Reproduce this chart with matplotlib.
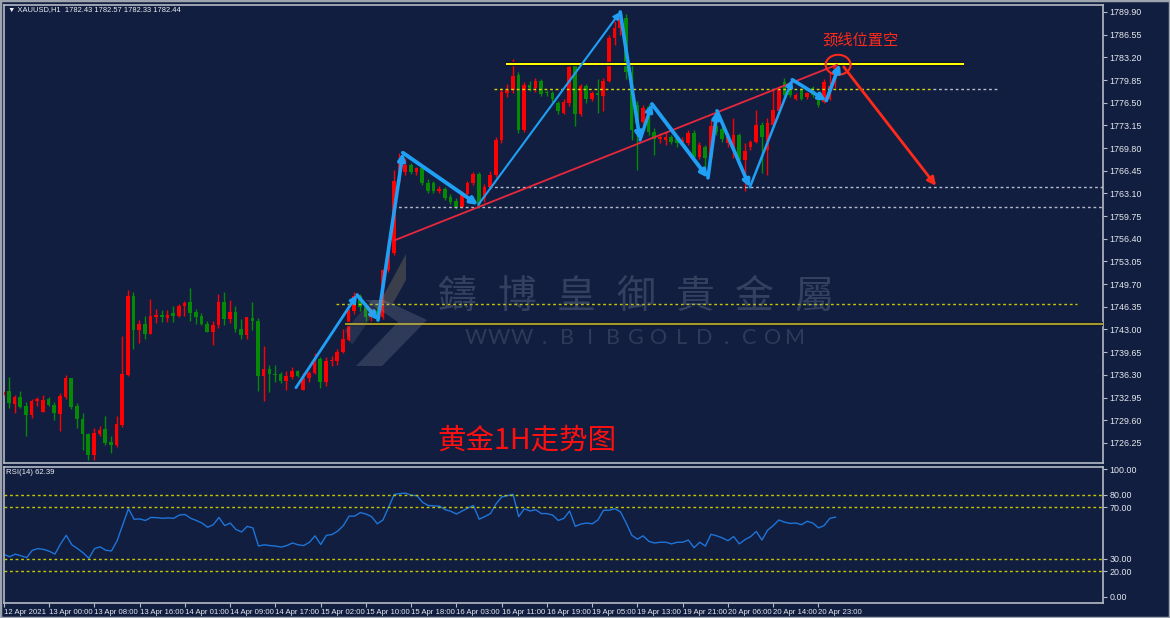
import numpy as np
import matplotlib.pyplot as plt
from matplotlib.patches import Ellipse, Rectangle, Polygon

# XAUUSD H1 candles, bar index 0..147
opens = [1733.3, 1733.9, 1732.0, 1733.0, 1731.7, 1730.3, 1732.4, 1730.8, 1732.7, 1731.9,
         1730.5, 1733.1, 1735.8, 1731.7, 1729.8, 1727.6, 1724.4, 1727.6, 1728.3, 1726.4,
         1725.9, 1728.9, 1736.3, 1748.0, 1742.9, 1743.8, 1742.4, 1744.8, 1745.2, 1744.7,
         1745.4, 1745.0, 1746.5, 1747.0, 1745.6, 1745.0, 1743.8, 1742.7, 1743.6, 1747.1,
         1744.6, 1745.6, 1743.1, 1742.2, 1744.7, 1744.3, 1736.2, 1737.1, 1736.4, 1736.4,
         1735.4, 1736.0, 1736.9, 1734.0, 1735.8, 1736.5, 1738.6, 1735.2, 1738.3, 1738.4,
         1739.7, 1741.5, 1745.7, 1747.9, 1746.3, 1744.9, 1745.8, 1744.8, 1751.8, 1754.3,
         1765.0, 1766.3, 1767.3, 1766.2, 1766.8, 1764.7, 1764.6, 1763.5, 1763.75, 1762.5,
         1762.0, 1761.1, 1763.0, 1764.7, 1765.9, 1762.4, 1764.1, 1765.8, 1771.0, 1777.9,
         1778.4, 1780.6, 1772.5, 1779.1, 1778.6, 1779.75, 1778.1, 1777.9, 1776.4, 1775.0,
         1776.4, 1782.1, 1774.9, 1778.9, 1777.0, 1777.9, 1777.5, 1779.75, 1786.0, 1787.6,
         1789.0, 1781.0, 1776.2, 1773.7, 1775.9, 1772.1, 1771.1, 1771.0, 1771.4, 1771.2,
         1770.7, 1770.5, 1772.0, 1768.5, 1770.0, 1768.5, 1773.1, 1772.6, 1770.5, 1769.8,
         1771.7, 1768.0, 1770.0, 1770.7, 1773.2, 1769.5, 1773.2, 1775.2, 1779.6, 1778.4,
         1777.1, 1778.4, 1777.4, 1778.6, 1777.9, 1776.6, 1777.1, 1781.5]
highs = [1734.0, 1736.0, 1733.3, 1733.9, 1732.3, 1732.8, 1733.1, 1733.3, 1733.1, 1732.3,
         1733.6, 1736.3, 1735.8, 1732.2, 1730.6, 1727.7, 1728.4, 1728.8, 1730.2, 1727.3,
         1730.2, 1742.1, 1748.8, 1748.5, 1744.4, 1745.0, 1747.5, 1746.0, 1745.9, 1745.9,
         1746.4, 1746.7, 1747.2, 1749.2, 1746.0, 1745.4, 1744.2, 1744.2, 1748.2, 1748.5,
         1747.4, 1746.5, 1744.6, 1744.9, 1747.0, 1744.7, 1740.5, 1737.8, 1737.8, 1736.7,
         1736.8, 1737.5, 1737.0, 1736.5, 1736.9, 1739.5, 1739.0, 1739.0, 1739.1, 1740.1,
         1743.0, 1746.0, 1748.6, 1748.3, 1746.9, 1746.2, 1746.3, 1752.0, 1756.3, 1766.6,
         1769.1, 1768.4, 1767.6, 1767.0, 1767.2, 1765.2, 1765.0, 1764.2, 1764.0, 1763.0,
         1762.4, 1763.5, 1765.0, 1766.2, 1766.2, 1764.5, 1766.4, 1771.5, 1778.6, 1779.2,
         1783.0, 1781.0, 1779.5, 1779.7, 1780.2, 1780.0, 1778.4, 1778.3, 1776.8, 1777.0,
         1782.3, 1782.5, 1779.2, 1779.3, 1778.3, 1780.0, 1780.2, 1786.5, 1788.6, 1789.9,
         1789.6, 1782.0, 1776.7, 1776.2, 1776.3, 1772.7, 1772.0, 1772.2, 1771.8, 1771.5,
         1771.4, 1772.4, 1772.5, 1770.7, 1770.3, 1773.9, 1775.3, 1773.0, 1772.0, 1774.2,
         1772.0, 1770.5, 1771.0, 1775.4, 1773.7, 1774.2, 1778.4, 1779.0, 1780.1, 1778.6,
         1777.9, 1778.6, 1778.1, 1778.9, 1778.1, 1780.0, 1781.1, 1782.6]
lows = [1733.0, 1731.4, 1730.6, 1731.4, 1727.3, 1729.9, 1731.7, 1730.8, 1731.7, 1729.6,
        1728.0, 1732.8, 1731.3, 1728.4, 1725.2, 1723.7, 1723.7, 1727.2, 1725.9, 1724.7,
        1725.7, 1728.6, 1736.2, 1740.1, 1741.0, 1741.6, 1742.3, 1743.9, 1744.1, 1744.1,
        1744.1, 1744.9, 1745.0, 1744.3, 1743.8, 1743.7, 1742.6, 1740.7, 1743.2, 1743.6,
        1743.9, 1742.7, 1741.6, 1741.6, 1742.9, 1733.9, 1732.5, 1733.7, 1735.2, 1735.1,
        1734.1, 1735.7, 1736.0, 1734.0, 1735.3, 1736.4, 1734.3, 1734.7, 1737.6, 1737.7,
        1739.6, 1741.3, 1745.3, 1745.8, 1744.3, 1744.2, 1744.0, 1744.5, 1751.5, 1754.0,
        1764.5, 1765.8, 1766.0, 1765.8, 1764.3, 1763.2, 1763.2, 1763.2, 1762.2, 1761.6,
        1760.8, 1760.9, 1762.8, 1764.4, 1761.3, 1761.8, 1763.7, 1765.5, 1770.6, 1777.4,
        1778.0, 1772.0, 1772.2, 1778.3, 1778.1, 1777.5, 1777.5, 1776.6, 1774.9, 1774.8,
        1776.0, 1773.0, 1774.5, 1776.5, 1776.7, 1775.0, 1775.2, 1779.5, 1785.0, 1786.5,
        1780.0, 1771.0, 1766.6, 1773.3, 1771.8, 1768.8, 1770.5, 1770.3, 1770.4, 1769.9,
        1770.3, 1770.2, 1768.0, 1768.2, 1766.0, 1768.2, 1771.7, 1770.7, 1770.0, 1768.3,
        1767.1, 1763.4, 1769.5, 1770.5, 1766.1, 1765.8, 1773.0, 1775.0, 1777.1, 1777.3,
        1776.9, 1776.9, 1777.1, 1777.4, 1775.9, 1776.4, 1776.9, 1778.7]
closes = [1733.8, 1732.1, 1733.0, 1731.6, 1730.3, 1732.4, 1732.8, 1732.6, 1731.9, 1730.6,
          1733.2, 1735.8, 1731.6, 1729.8, 1727.5, 1724.4, 1727.7, 1728.2, 1726.3, 1725.9,
          1729.1, 1736.4, 1748.0, 1742.9, 1743.8, 1742.4, 1745.0, 1745.2, 1744.8, 1745.2,
          1745.0, 1746.5, 1746.9, 1745.5, 1744.9, 1743.8, 1742.7, 1743.7, 1747.1, 1744.6,
          1745.6, 1743.1, 1742.2, 1744.8, 1744.2, 1736.2, 1737.1, 1736.4, 1736.3, 1735.4,
          1736.1, 1736.9, 1736.1, 1735.8, 1736.6, 1738.0, 1735.2, 1738.4, 1738.5, 1739.7,
          1741.6, 1745.7, 1747.9, 1746.3, 1744.9, 1745.8, 1744.6, 1751.8, 1754.3, 1765.0,
          1767.8, 1767.3, 1766.2, 1766.8, 1764.7, 1763.5, 1763.5, 1763.75, 1762.4, 1761.9,
          1761.1, 1763.0, 1764.7, 1765.9, 1761.6, 1764.1, 1765.8, 1771.0, 1778.1, 1778.4,
          1780.4, 1772.4, 1779.1, 1778.6, 1779.75, 1777.8, 1777.9, 1777.0, 1775.2, 1776.65,
          1781.8, 1774.9, 1778.9, 1777.0, 1777.9, 1777.6, 1779.75, 1786.0, 1787.6, 1789.0,
          1781.0, 1772.4, 1773.5, 1775.7, 1772.1, 1771.2, 1771.5, 1771.5, 1770.7, 1770.5,
          1771.0, 1772.0, 1768.5, 1770.3, 1768.3, 1773.0, 1772.1, 1771.2, 1771.5, 1771.7,
          1768.0, 1769.3, 1770.7, 1773.2, 1771.5, 1773.5, 1775.4, 1778.4, 1777.6, 1777.6,
          1777.6, 1777.1, 1777.9, 1777.6, 1776.2, 1779.6, 1778.9, 1782.4]

rsi = [33.2, 31.5, 33.5, 32.2, 30.8, 36.5, 37.8, 37.2, 35.8, 33.5,
       41.5, 48.2, 40.8, 37.8, 34.5, 30.2, 37.8, 39.2, 36.5, 36.0,
       44.0, 56.5, 69.0, 60.8, 61.0, 59.8, 62.2, 62.0, 61.5, 61.8,
       61.5, 64.0, 64.5, 61.5, 59.8, 57.8, 54.5, 56.5, 62.2, 55.8,
       57.8, 52.8, 50.8, 55.2, 54.0, 39.8, 40.8, 40.2, 39.8, 39.0,
       40.2, 42.2, 40.8, 40.2, 42.8, 47.8, 41.0, 48.2, 48.8, 51.5,
       55.8, 63.2, 63.2, 66.0, 64.8, 62.8, 57.2, 60.2, 70.2, 80.2,
       80.8, 81.2, 79.5, 79.2, 74.0, 71.5, 71.2, 71.0, 68.2, 67.0,
       64.8, 67.2, 69.5, 71.5, 60.8, 62.8, 65.2, 72.8, 78.2, 79.2,
       80.2, 62.8, 69.0, 67.2, 68.2, 65.2, 65.2, 64.0, 59.8, 61.5,
       67.2, 55.2, 57.0, 57.8, 57.2, 60.2, 67.8, 67.8, 69.0, 66.5,
       57.8, 48.2, 45.2, 47.8, 43.5, 42.2, 42.8, 42.8, 41.5, 42.8,
       42.8, 44.5, 38.5, 42.8, 39.8, 49.0, 47.8, 46.2, 44.0, 47.2,
       41.5, 44.8, 47.2, 51.2, 44.5, 52.2, 55.8, 60.2, 58.5, 57.5,
       57.8, 56.5, 59.2, 57.8, 54.0, 55.8, 61.5, 62.4]

time_labels = ['12 Apr 2021', '13 Apr 00:00', '13 Apr 08:00', '13 Apr 16:00', '14 Apr 01:00',
               '14 Apr 09:00', '14 Apr 17:00', '15 Apr 02:00', '15 Apr 10:00', '15 Apr 18:00',
               '16 Apr 03:00', '16 Apr 11:00', '16 Apr 19:00', '19 Apr 05:00', '19 Apr 13:00',
               '19 Apr 21:00', '20 Apr 06:00', '20 Apr 14:00', '20 Apr 23:00']

# drawn analysis: zigzag (bar, price)
zz_bar = [51.7, 62.5, 66.2, 70.6, 83.9, 109.0, 112.5, 114.6, 124.5, 126.1, 131.9, 139.4, 145.4, 147.8]
zz_price = [1734.4, 1748.1, 1744.4, 1769.1, 1761.4, 1789.9, 1771.0, 1776.3, 1765.4, 1775.3,
            1764.0, 1779.9, 1776.8, 1782.2]
zz_width = [2.0, 2.6, 2.6, 2.8, 1.5, 2.6, 2.4, 2.8, 2.6, 2.6, 1.8, 2.6, 2.6]

neck_price = 1782.2
BG = '#111e40'
RED = '#ff0000'
GREEN = '#068a06'
BLUE = '#1fa0f5'
W, H = 1170, 618
TICKFONT = ['Liberation Sans', 'DejaVu Sans']

fig = plt.figure(figsize=(11.7, 6.18), dpi=100, facecolor=BG)
ax = fig.add_axes([4 / W, 1 - 463 / H, 1099 / W, 458 / H], facecolor=BG)
ax2 = fig.add_axes([4 / W, 1 - 603 / H, 1099 / W, 136 / H], facecolor=BG)

o = np.array(opens); h = np.array(highs); l = np.array(lows); c = np.array(closes)
x = np.arange(len(c))
col = np.where(c >= o, RED, GREEN)
ax.vlines(x, l, h, colors=col, lw=1, zorder=3)
ax.bar(x, np.maximum(np.abs(c - o), 0.12), bottom=np.minimum(o, c), width=0.64,
       color=col, lw=0, zorder=3)

# horizontal levels
ax.hlines(neck_price, 88.8, 169.7, color='#0a0a30', lw=3.2, zorder=4)
ax.hlines(neck_price, 88.8, 169.7, color='#ffff00', lw=1.5, zorder=4)
ax.hlines(1778.5, 86.7, 164.3, color='#d8d800', lw=1, ls=(0, (2, 2)), zorder=4)
ax.hlines(1778.5, 164.3, 175.6, color='#b8bcc8', lw=1, ls=(0, (2, 2)), zorder=4)
ax.hlines(1764.0, 85.8, 194.3, color='#b8bcc8', lw=1, ls=(0, (2, 2)), zorder=4)
ax.hlines(1761.1, 68.8, 194.3, color='#b8bcc8', lw=1, ls=(0, (2, 2)), zorder=4)
ax.hlines(1746.8, 58.8, 189.7, color='#c8c800', lw=1, ls=(0, (2, 2)), zorder=4)
ax.hlines(1743.8, 60.4, 194.3, color='#0a0a30', lw=3.2, zorder=4)
ax.hlines(1743.8, 60.4, 194.3, color='#a09a28', lw=1.6, zorder=4)

# neckline trend and projection
ax.plot([69.2, 147.3], [1756.2, 1782.1], color='#e8283c', lw=1.3, zorder=5)
ax.annotate('', xy=(165.1, 1763.9), xytext=(148.2, 1782.1),
            arrowprops=dict(arrowstyle='-|>', color='#ff2a1a', lw=2, mutation_scale=12), zorder=6)
ax.add_patch(Ellipse((147.5, 1782.1), 4.4, 2.95, fill=False, ec='#ff2a1a', lw=1.5, zorder=6))
ax.text(151.5, 1785.8, '颈线位置空', color='#ff2a1a', fontsize=11, ha='center', va='center',
        family=['Noto Sans CJK SC', 'DejaVu Sans'], zorder=6)

for i in range(len(zz_bar) - 1):
    ax.annotate('', xy=(zz_bar[i + 1], zz_price[i + 1]), xytext=(zz_bar[i], zz_price[i]),
                arrowprops=dict(arrowstyle='-|>', color=BLUE, lw=zz_width[i],
                                mutation_scale=10, shrinkA=0, shrinkB=0), zorder=7)

ax.set_xlim(0.12, 194.3)
ax.set_ylim(1723.28, 1790.93)
ticks = 1726.25 + 3.35 * np.arange(20)
ax.yaxis.tick_right()
ax.set_yticks(ticks)
ax.set_yticklabels(['%.2f' % t for t in ticks])
ax.set_xticks([])

# RSI panel
ax2.plot(np.arange(len(rsi)), rsi, color='#1e74d8', lw=1)
for lv in [80, 70, 30, 20]:
    ax2.axhline(lv, color='#c8c800', lw=1, ls=(0, (2, 2)))
ax2.set_xlim(0.12, 194.3)
ax2.set_ylim(-4.7, 101.6)
ax2.yaxis.tick_right()
ax2.set_yticks([0, 20, 30, 70, 80, 100])
ax2.set_yticklabels(['0.00', '20.00', '30.00', '70.00', '80.00', '100.00'])
ax2.set_xticks(np.arange(0, 145, 8))
ax2.set_xticklabels(time_labels, ha='left')

for a in (ax, ax2):
    for s in a.spines.values():
        s.set_color('#b4bac6')
        s.set_linewidth(1.2)
    a.tick_params(colors='#b4bac6', labelcolor='#e6e8ee', length=3, width=0.8, pad=1.5)
    for t in a.get_xticklabels():
        t.set_family(TICKFONT)
        t.set_fontsize(5.6)
    for t in a.get_yticklabels():
        t.set_family(TICKFONT)
        t.set_fontsize(6.4)

# watermark
wm_family = ['Noto Sans CJK TC', 'DejaVu Sans']
for k, ch in enumerate('鑄博皇御貴金屬'):
    fig.text((457 + 59.5 * k) / W, 1 - 297 / H, ch, color='#8890a8', alpha=0.3, fontsize=28,
             ha='center', va='center', family=wm_family, zorder=0)
for k, ch in enumerate('WWW.BIBGOLD.COM'):
    fig.text((476 + 22.8 * k) / W, 1 - 338 / H, ch, color='#8890a8', alpha=0.25, fontsize=15.5,
             ha='center', va='center', family=['Lato', 'DejaVu Sans'], zorder=0)
logo_dark = [(380, 302), (406, 254), (406, 280), (392, 305)]
logo_light = [(365, 300), (384, 300), (427, 320), (382, 366), (356, 366), (398, 322)]
logo_left = [(345, 330), (372, 300), (383, 300), (352, 345)]
for pts, fc, al in [(logo_dark, '#8a7a60', 0.35), (logo_light, '#9aa2b2', 0.22), (logo_left, '#9aa2b2', 0.15)]:
    fig.patches.append(Polygon([(px / W, 1 - py / H) for px, py in pts], closed=True,
                               transform=fig.transFigure, fc=fc, alpha=al, lw=0))

fig.text(437 / W, 1 - 441 / H, '黄金1H走势图', color='#ff1010', fontsize=20.5, ha='left', va='center',
         family=['Noto Sans CJK SC', 'DejaVu Sans'])
fig.text(8 / W, 1 - 10 / H, '▼ XAUUSD,H1  1782.43 1782.57 1782.33 1782.44', color='#f0f0f0',
         fontsize=5.4, ha='left', va='center', family=TICKFONT)
fig.text(6 / W, 1 - 472 / H, 'RSI(14) 62.39', color='#f0f0f0', fontsize=5.6, ha='left', va='center',
         family=TICKFONT)

fig.patches.append(Rectangle((0, 0), 1, 1, transform=fig.transFigure, fill=False,
                             ec='#9ea4ae', lw=2.5))

fig.savefig('out.png', dpi=100, facecolor=BG)
